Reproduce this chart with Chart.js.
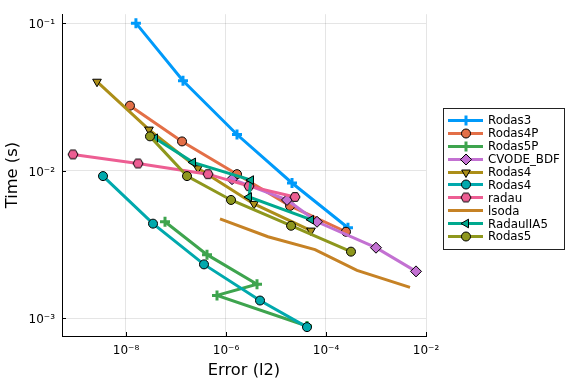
<!DOCTYPE html>
<html>
<head>
<meta charset="utf-8">
<script src="https://cdn.jsdelivr.net/npm/chart.js@4.4.1/dist/chart.umd.min.js"></script>
<style>
  body { margin: 0; background: #fff; }
  #wrap { position: relative; width: 576px; height: 384px; }
  #legend {
    position: absolute; left: 443px; top: 108px; width: 122px; height: 142px;
    box-sizing: border-box; border: 1px solid #222; background: #fff;
    padding-top: 5px; font-family: "DejaVu Sans", sans-serif; font-size: 11.8px; color: #000;
  }
  .row { height: 12.9px; display: flex; align-items: center; white-space: nowrap; }
  .row canvas { margin-left: 2px; margin-right: 2px; }
</style>
</head>
<body>
<div id="wrap">
  <canvas id="plot-area" width="576" height="384"></canvas>
  <div id="legend"></div>
</div>
<script>
// values (error in l2, time in s)
const errRodas3 = [1.58e-8, 1.38e-7, 1.66e-6, 2.09e-5, 2.75e-4];
const timeRodas3 = [0.100, 0.0407, 0.0176, 0.00826, 0.00411];

const errRodas4P = [1.2e-8, 1.32e-7, 1.66e-6, 1.91e-5, 2.51e-4];
const timeRodas4P = [0.0276, 0.0158, 0.00948, 0.00578, 0.00386];

const errRodas5P = [6.03e-8, 4.17e-7, 4.17e-6, 6.61e-7, 4.17e-5];
const timeRodas5P = [0.00451, 0.00270, 0.00170, 0.00143, 0.000887];

const errCVODE = [1.32e-6, 1.66e-5, 6.61e-5, 1.0e-3, 6.31e-3];
const timeCVODE = [0.00877, 0.00634, 0.00451, 0.00301, 0.00208];

const errRodas4a = [2.63e-9, 2.88e-8, 2.75e-7, 3.63e-6, 5.01e-5];
const timeRodas4a = [0.0401, 0.0190, 0.0104, 0.00596, 0.00393];

const errRodas4b = [3.47e-9, 3.47e-8, 3.63e-7, 4.79e-6, 4.17e-5];
const timeRodas4b = [0.00920, 0.00438, 0.00232, 0.00132, 0.000872];

const errRadau = [8.71e-10, 1.74e-8, 4.37e-7, 2.88e-6, 2.40e-5];
const timeRadau = [0.0129, 0.0112, 0.00948, 0.00787, 0.00664];

const errLsoda = [7.59e-7, 6.92e-6, 6.03e-5, 4.17e-4, 4.79e-3];
const timeLsoda = [0.00472, 0.00357, 0.00292, 0.00211, 0.00162];

const errRadauIIA5 = [3.80e-8, 2.19e-7, 3.16e-6, 2.88e-6, 5.01e-5];
const timeRadauIIA5 = [0.0166, 0.0114, 0.00865, 0.00664, 0.00466];

const errRodas5 = [3.02e-8, 1.66e-7, 1.26e-6, 2.0e-5, 3.16e-4];
const timeRodas5 = [0.0171, 0.00920, 0.00634, 0.00424, 0.00283];

const xTicks = [1e-8, 1e-6, 1e-4, 1e-2];
const yTicks = [1e-3, 1e-2, 1e-1];

function hexagon(color) {
  const c = document.createElement("canvas");
  c.width = 12; c.height = 12;
  const g = c.getContext("2d");
  g.beginPath();
  for (let k = 0; k < 6; k++) {
    const a = Math.PI / 3 * k;
    const px = 6 + 5 * Math.cos(a), py = 6 + 5 * Math.sin(a);
    if (k === 0) g.moveTo(px, py); else g.lineTo(px, py);
  }
  g.closePath();
  g.fillStyle = color; g.fill();
  g.lineWidth = 1; g.strokeStyle = "#000"; g.stroke();
  return c;
}

const series = [
  { label: "Rodas3", x: errRodas3, y: timeRodas3, color: "#009AFA", style: "cross", rot: 0 },
  { label: "Rodas4P", x: errRodas4P, y: timeRodas4P, color: "#E36F47", style: "circle", rot: 0 },
  { label: "Rodas5P", x: errRodas5P, y: timeRodas5P, color: "#3EA44E", style: "cross", rot: 0 },
  { label: "CVODE_BDF", x: errCVODE, y: timeCVODE, color: "#C371D2", style: "rectRot", rot: 0 },
  { label: "Rodas4", x: errRodas4a, y: timeRodas4a, color: "#AC8E18", style: "triangle", rot: 180 },
  { label: "Rodas4", x: errRodas4b, y: timeRodas4b, color: "#00A9AD", style: "circle", rot: 0 },
  { label: "radau", x: errRadau, y: timeRadau, color: "#ED5E93", style: "hex", rot: 0 },
  { label: "lsoda", x: errLsoda, y: timeLsoda, color: "#C68225", style: false, rot: 0 },
  { label: "RadauIIA5", x: errRadauIIA5, y: timeRadauIIA5, color: "#00A98E", style: "triangle", rot: 270 },
  { label: "Rodas5", x: errRodas5, y: timeRodas5, color: "#8E971D", style: "circle", rot: 0 },
];

function markerOpts(s) {
  const isCross = s.style === "cross";
  let r = 4.5;
  if (s.style === false) r = 0;
  else if (isCross) r = 5;
  else if (s.style === "rectRot") r = 5.5;
  else if (s.style === "triangle") r = 5;
  return {
    pointStyle: s.style === "hex" ? hexagon(s.color) : s.style,
    radius: r,
    rotation: s.rot,
    borderWidth: isCross ? 3 : 1,
    borderColor: isCross ? s.color : "#000",
  };
}

const datasets = series.map((s, i) => {
  const m = markerOpts(s);
  return {
    label: s.label,
    data: s.x.map((v, k) => ({ x: v, y: s.y[k] })),
    showLine: true,
    borderColor: s.color,
    backgroundColor: s.color,
    borderWidth: 3,
    pointStyle: m.pointStyle,
    pointRadius: m.radius,
    pointRotation: m.rotation,
    pointBorderWidth: m.borderWidth,
    pointBorderColor: m.borderColor,
    pointBackgroundColor: s.color,
    order: series.length - i,
  };
});

const supMap = { "-": "\u207B", "0": "\u2070", "1": "\u00B9", "2": "\u00B2", "3": "\u00B3", "4": "\u2074",
  "5": "\u2075", "6": "\u2076", "7": "\u2077", "8": "\u2078", "9": "\u2079" };
function powLabel(v) {
  const e = String(Math.round(Math.log10(v)));
  return "10" + e.split("").map(ch => supMap[ch]).join("");
}

// Plots-style short ticks drawn inward from the axes
const innerTicks = {
  id: "innerTicks",
  afterDraw(chart) {
    const { ctx, chartArea, scales } = chart;
    ctx.save();
    ctx.strokeStyle = "#000";
    ctx.lineWidth = 1;
    xTicks.forEach(v => {
      const px = Math.round(scales.x.getPixelForValue(v)) + 0.5;
      ctx.beginPath(); ctx.moveTo(px, chartArea.bottom); ctx.lineTo(px, chartArea.bottom - 4); ctx.stroke();
    });
    yTicks.forEach(v => {
      const py = Math.round(scales.y.getPixelForValue(v)) + 0.5;
      ctx.beginPath(); ctx.moveTo(chartArea.left, py); ctx.lineTo(chartArea.left + 4, py); ctx.stroke();
    });
    ctx.restore();
  },
};

const font = "'DejaVu Sans', sans-serif";

const config = {
  type: "scatter",
  data: { datasets: datasets },
  options: {
    responsive: false,
    animation: false,
    layout: { padding: { left: 0, right: 150, top: 12, bottom: 0 } },
    scales: {
      x: {
        type: "logarithmic",
        position: "bottom",
        min: 5.25e-10,
        max: 1e-2,
        afterBuildTicks: (scale) => { scale.ticks = xTicks.map(v => ({ value: v })); },
        afterFit: (scale) => { scale.height = 48; },
        ticks: { callback: (v) => powLabel(v), color: "#000", font: { family: font, size: 12 }, padding: 8, maxRotation: 0 },
        grid: { color: "rgba(0,0,0,0.1)", drawTicks: false },
        border: { color: "#000", width: 1 },
        title: { display: true, text: "Error (l2)", color: "#000", font: { family: font, size: 16.3 }, padding: { top: 0, bottom: 3 } },
      },
      y: {
        type: "logarithmic",
        position: "left",
        min: 7.59e-4,
        max: 0.115,
        afterBuildTicks: (scale) => { scale.ticks = yTicks.map(v => ({ value: v })); },
        afterFit: (scale) => { scale.width = 62; },
        ticks: { callback: (v) => powLabel(v), color: "#000", font: { family: font, size: 12 }, padding: 7, labelOffset: 2 },
        grid: { color: "rgba(0,0,0,0.1)", drawTicks: false },
        border: { color: "#000", width: 1 },
        title: { display: true, text: "Time (s)", color: "#000", font: { family: font, size: 16.3 }, padding: { top: 3, bottom: 0 } },
      },
    },
    plugins: {
      legend: { display: false },
      tooltip: { enabled: false },
    },
  },
  plugins: [innerTicks],
};

new Chart(document.getElementById("plot-area").getContext("2d"), config);

// legend box on the right
const legend = document.getElementById("legend");
series.forEach(s => {
  const row = document.createElement("div");
  row.className = "row";
  const c = document.createElement("canvas");
  c.width = 40; c.height = 13;
  const g = c.getContext("2d");
  g.strokeStyle = s.color; g.lineWidth = 3;
  g.beginPath(); g.moveTo(2, 6.5); g.lineTo(37, 6.5); g.stroke();
  const m = markerOpts(s);
  if (m.radius > 0) {
    g.fillStyle = s.color;
    g.strokeStyle = m.borderColor;
    g.lineWidth = m.borderWidth;
    Chart.helpers.drawPoint(g, { pointStyle: m.pointStyle, radius: m.radius, rotation: m.rotation, borderWidth: m.borderWidth }, 20, 6.5);
  }
  const t = document.createElement("span");
  t.textContent = s.label;
  row.appendChild(c);
  row.appendChild(t);
  legend.appendChild(row);
});
</script>
</body>
</html>
